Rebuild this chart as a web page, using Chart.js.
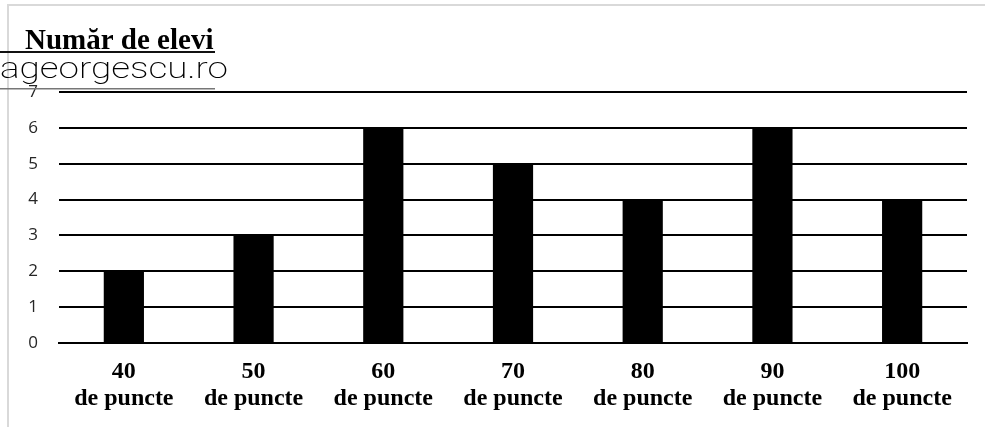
<!DOCTYPE html>
<html>
<head>
<meta charset="utf-8">
<script src="https://cdn.jsdelivr.net/npm/chart.js@4"></script>
<style>
  html, body { margin: 0; padding: 0; background: #fff; }
  #wrap { position: relative; width: 985px; height: 427px; }
</style>
</head>
<body>
<div id="wrap"><canvas id="c" width="985" height="427"></canvas></div>
<script>
// Points categories (two-line labels) and number of pupils per category
const categories = [
  ['40', 'de puncte'], ['50', 'de puncte'], ['60', 'de puncte'], ['70', 'de puncte'],
  ['80', 'de puncte'], ['90', 'de puncte'], ['100', 'de puncte']
];
const pupils = [2, 3, 6, 5, 4, 6, 4];
const yTicks = [0, 1, 2, 3, 4, 5, 6, 7];

const titleText = 'Număr de elevi';
const markText = 'ageorgescu.ro';

// Frame, heading and site mark drawn on the canvas
const decorations = {
  id: 'decorations',
  beforeDraw(chart) {
    const ctx = chart.ctx;
    ctx.save();
    ctx.strokeStyle = '#d9d9d9';
    ctx.lineWidth = 2;
    ctx.beginPath();
    ctx.moveTo(8, 427);
    ctx.lineTo(8, 5);
    ctx.lineTo(985, 5);
    ctx.stroke();
    ctx.restore();
  },
  afterDraw(chart) {
    const ctx = chart.ctx;
    ctx.save();
    // heading
    ctx.fillStyle = '#000';
    ctx.font = 'bold 29px "Liberation Serif"';
    ctx.textBaseline = 'alphabetic';
    ctx.textAlign = 'left';
    ctx.fillText(titleText, 25, 49);
    ctx.fillStyle = '#111';
    ctx.fillRect(0, 51, 215, 2);
    // site mark
    ctx.font = '200 30px Roboto';
    const w = ctx.measureText(markText).width;
    ctx.translate(0, 78);
    ctx.scale(228 / w, 1);
    ctx.fillStyle = '#000';
    ctx.fillText(markText, 0, 0);
    ctx.setTransform(1, 0, 0, 1, 0, 0);
    ctx.fillStyle = '#777';
    ctx.fillRect(0, 88, 215, 1.5);
    ctx.restore();
  }
};

new Chart(document.getElementById('c'), {
  type: 'bar',
  data: {
    labels: categories,
    datasets: [{
      data: pupils,
      backgroundColor: '#000',
      borderWidth: 0,
      barPercentage: 0.62,
      categoryPercentage: 0.5
    }]
  },
  options: {
    responsive: false,
    animation: false,
    layout: { padding: { left: 0, right: 18, top: 92, bottom: 14 } },
    plugins: { legend: { display: false }, tooltip: { enabled: false } },
    scales: {
      x: {
        grid: { display: false, drawTicks: false },
        border: { display: true, color: '#000', width: 2 },
        ticks: {
          color: '#000',
          font: { family: '"Liberation Serif"', size: 24, weight: 'bold', lineHeight: 1.1 },
          padding: 16,
          maxRotation: 0,
          autoSkip: false
        },
        afterFit(s) { s.height = 70; }
      },
      y: {
        min: 0,
        max: 7,
        afterBuildTicks(s) { s.ticks = yTicks.map(v => ({ value: v })); },
        grid: { color: '#000', lineWidth: 2, drawTicks: false },
        border: { display: false },
        ticks: {
          color: '#262626',
          font: { family: '"Open Sans"', size: 17 },
          padding: 21
        },
        afterFit(s) { s.width = 59; }
      }
    }
  },
  plugins: [decorations]
});
</script>
</body>
</html>
